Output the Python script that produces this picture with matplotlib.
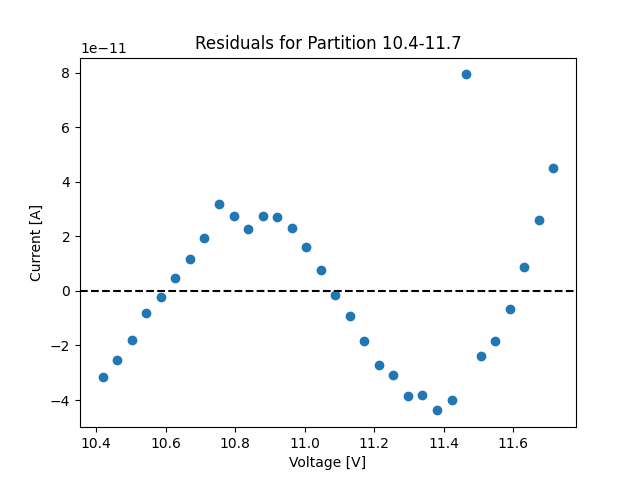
import numpy as np
import matplotlib
matplotlib.use('Agg')
import matplotlib.pyplot as plt

# voltage points of the partition
voltage = [10.418, 10.460, 10.502, 10.544, 10.585, 10.627, 10.669, 10.711,
           10.753, 10.795, 10.837, 10.879, 10.920, 10.962, 11.004, 11.046,
           11.088, 11.130, 11.172, 11.214, 11.255, 11.297, 11.339, 11.381,
           11.423, 11.465, 11.507, 11.549, 11.590, 11.632, 11.674, 11.716]

# residuals in units of 1e-11 A
residual = [-3.15, -2.52, -1.79, -0.80, -0.21, 0.48, 1.18, 1.95,
            3.20, 2.73, 2.28, 2.73, 2.70, 2.32, 1.62, 0.75,
            -0.14, -0.93, -1.84, -2.72, -3.10, -3.86, -3.80, -4.38,
            -4.01, 7.94, -2.37, -1.85, -0.65, 0.87, 2.59, 4.50]

x = np.array(voltage)
y = np.array(residual) * 1e-11

fig, ax = plt.subplots(figsize=(6.4, 4.8), dpi=100)
ax.scatter(x, y)
ax.axhline(0, color='k', linestyle='--')
ax.set_title('Residuals for Partition 10.4-11.7')
ax.set_xlabel('Voltage [V]')
ax.set_ylabel('Current [A]')

plt.savefig('out.png', dpi=100)
